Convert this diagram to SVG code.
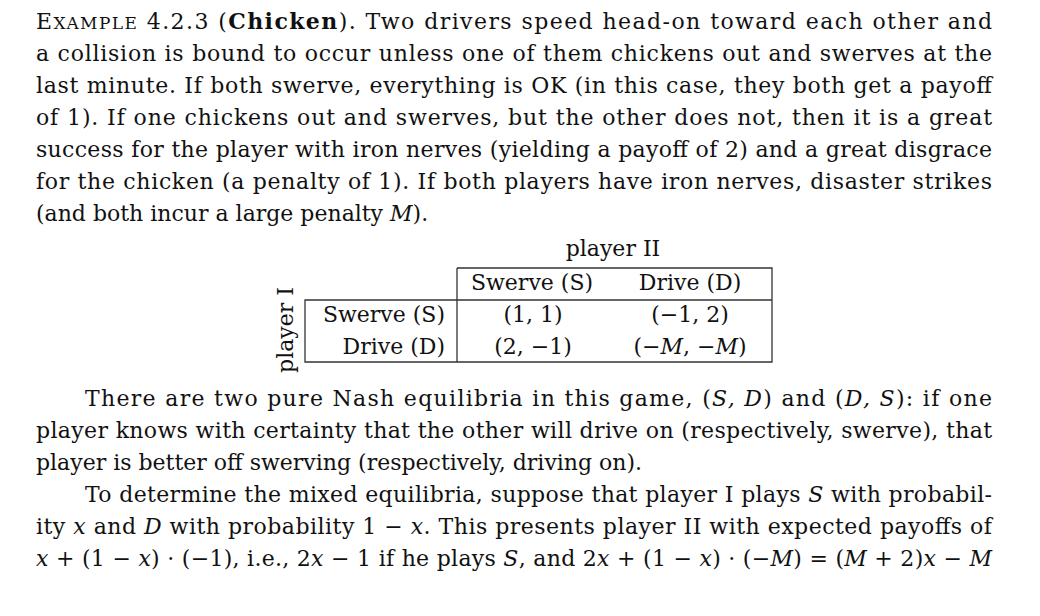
<svg xmlns="http://www.w3.org/2000/svg" width="1040" height="616" viewBox="0 0 1040 616">
<style>
text{font-family:"DejaVu Serif","Liberation Serif",serif;font-size:22px;fill:#111}
.i{font-style:italic}
.b{font-weight:bold}
.t{stroke:#333;stroke-width:1.3;fill:none}
</style>
<rect width="1040" height="616" fill="#fff"/>
<g id="body1">
<text x="36" y="29" textLength="956" lengthAdjust="spacing">E<tspan font-size="17">XAMPLE</tspan> 4.2.3 (<tspan class="b">Chicken</tspan>). Two drivers speed head-on toward each other and</text>
<text x="36" y="61" textLength="956" lengthAdjust="spacing">a collision is bound to occur unless one of them chickens out and swerves at the</text>
<text x="36" y="93" textLength="956" lengthAdjust="spacing">last minute. If both swerve, everything is OK (in this case, they both get a payoff</text>
<text x="36" y="125" textLength="956" lengthAdjust="spacing">of 1). If one chickens out and swerves, but the other does not, then it is a great</text>
<text x="36" y="157" textLength="956" lengthAdjust="spacing">success for the player with iron nerves (yielding a payoff of 2) and a great disgrace</text>
<text x="36" y="189" textLength="956" lengthAdjust="spacing">for the chicken (a penalty of 1). If both players have iron nerves, disaster strikes</text>
<text x="36" y="221">(and both incur a large penalty <tspan class="i">M</tspan>).</text>
</g>
<g id="table">
<path class="t" d="M457 268H772V362H305V300H772M457 268V362"/>
<text x="613" y="256" text-anchor="middle">player II</text>
<text x="532" y="290" text-anchor="middle">Swerve (S)</text>
<text x="690" y="290" text-anchor="middle">Drive (D)</text>
<text x="445" y="322" text-anchor="end">Swerve (S)</text>
<text x="445" y="354" text-anchor="end">Drive (D)</text>
<text x="533" y="322" text-anchor="middle">(1, 1)</text>
<text x="690" y="322" text-anchor="middle">(−1, 2)</text>
<text x="533" y="354" text-anchor="middle">(2, −1)</text>
<text x="690" y="354" text-anchor="middle">(−<tspan class="i">M</tspan>, −<tspan class="i">M</tspan>)</text>
<text transform="translate(293 330) rotate(-90)" text-anchor="middle">player I</text>
</g>
<g id="body2">
<text x="85" y="406" textLength="907" lengthAdjust="spacing">There are two pure Nash equilibria in this game, (<tspan class="i">S, D</tspan>) and (<tspan class="i">D, S</tspan>): if one</text>
<text x="36" y="438" textLength="956" lengthAdjust="spacing">player knows with certainty that the other will drive on (respectively, swerve), that</text>
<text x="36" y="470">player is better off swerving (respectively, driving on).</text>
<text x="85" y="502" textLength="907" lengthAdjust="spacing">To determine the mixed equilibria, suppose that player I plays <tspan class="i">S</tspan> with probabil-</text>
<text x="36" y="534" textLength="956" lengthAdjust="spacing">ity <tspan class="i">x</tspan> and <tspan class="i">D</tspan> with probability 1 − <tspan class="i">x</tspan>. This presents player II with expected payoffs of</text>
<text x="36" y="566" textLength="956" lengthAdjust="spacing"><tspan class="i">x</tspan> + (1 − <tspan class="i">x</tspan>) · (−1), i.e., 2<tspan class="i">x</tspan> − 1 if he plays <tspan class="i">S</tspan>, and 2<tspan class="i">x</tspan> + (1 − <tspan class="i">x</tspan>) · (−<tspan class="i">M</tspan>) = (<tspan class="i">M</tspan> + 2)<tspan class="i">x</tspan> − <tspan class="i">M</tspan></text>
</g>
</svg>
